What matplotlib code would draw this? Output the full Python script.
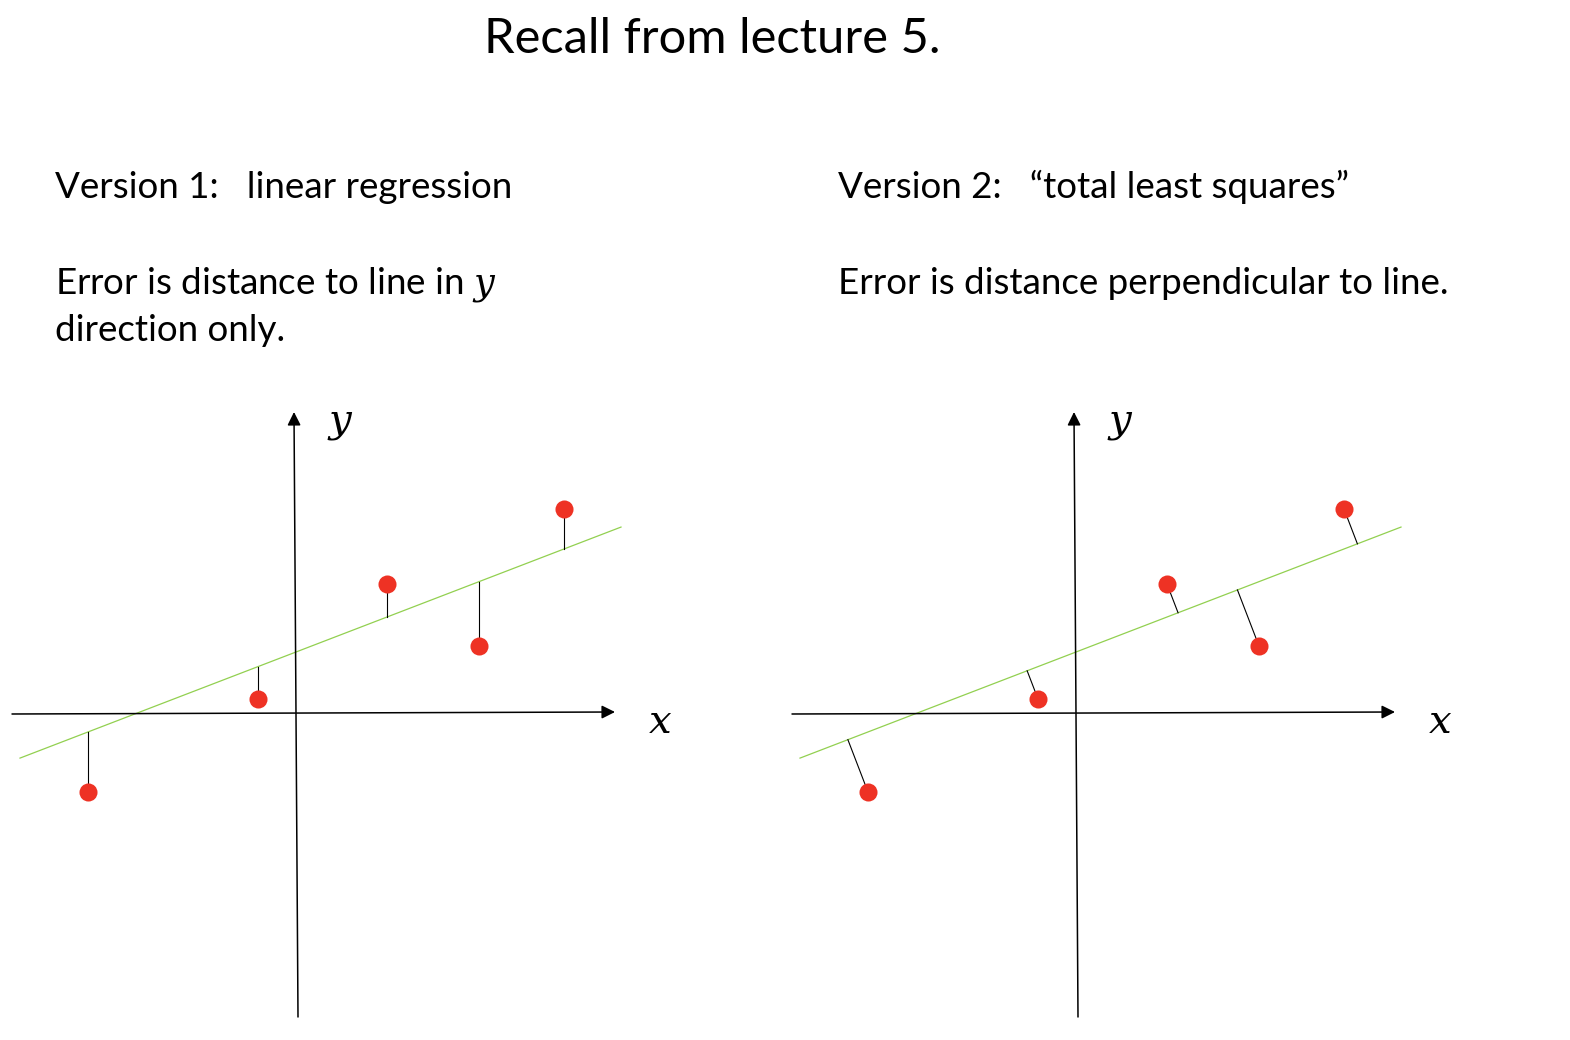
import numpy as np
import matplotlib
matplotlib.use("Agg")
from matplotlib import pyplot as plt

plt.rcParams['font.family'] = ['Lato', 'DejaVu Sans']
plt.rcParams['mathtext.fontset'] = 'dejavuserif'

# data points (units: origin at the axes crossing, y up)
pts_x = [-4.16, -0.76, 1.82, 3.66, 5.36]
pts_y = [-1.58, 0.28, 2.58, 1.34, 4.08]

# fitted line y = slope * x + intercept, drawn between these x values
slope = 0.3844
intercept = 1.22
line_x = [-5.52, 6.5]

# the two coordinate axes (start and end of each arrow)
xaxis_x = [-5.68, 6.38]
xaxis_y = [-0.02, 0.02]
yaxis_x = [0.04, -0.04]
yaxis_y = [-6.08, 6.02]

W, H = 1570, 1040
fig = plt.figure(figsize=(W / 100, H / 100), dpi=100)

# text on the slide
fs = 26.5
fig.text(712 / W, 1 - 53 / H, "Recall from lecture 5.", fontsize=35.2, ha='center', va='baseline')
fig.text(55 / W, 1 - 198 / H, "Version 1:   linear regression", fontsize=fs, va='baseline')
fig.text(55 / W, 1 - 294 / H, "Error is distance to line in $y$", fontsize=fs, va='baseline')
fig.text(55 / W, 1 - 341 / H, "direction only.", fontsize=fs, va='baseline')
fig.text(838 / W, 1 - 198 / H, "Version 2:   \u201ctotal least squares\u201d", fontsize=fs, va='baseline')
fig.text(838 / W, 1 - 294 / H, "Error is distance perpendicular to line.", fontsize=fs, va='baseline')

px = np.array(pts_x)
py = np.array(pts_y)
lx = np.array(line_x)

for k, ox in enumerate([296, 1076]):
    # 1 data unit = 50 px, origin at (ox, 713) px
    left_px, right_px, top_px, bot_px = ox - 296, ox + 464, 380, 1040
    ax = fig.add_axes([left_px / W, 1 - bot_px / H, (right_px - left_px) / W, (bot_px - top_px) / H])
    ax.set_xlim((left_px - ox) / 50, (right_px - ox) / 50)
    ax.set_ylim((713 - bot_px) / 50, (713 - top_px) / 50)
    ax.axis('off')

    arrow = dict(arrowstyle='-|>', color='k', lw=1.1, mutation_scale=20, shrinkA=0, shrinkB=0)
    ax.annotate("", xy=(xaxis_x[1], xaxis_y[1]), xytext=(xaxis_x[0], xaxis_y[0]), arrowprops=arrow)
    ax.annotate("", xy=(yaxis_x[1], yaxis_y[1]), xytext=(yaxis_x[0], yaxis_y[0]), arrowprops=arrow)
    ax.text(7.28, -0.17, "$x$", fontsize=29, ha='center', va='center')
    ax.text(0.88, 5.8, "$y$", fontsize=29, ha='center', va='center')

    ax.plot(lx, slope * lx + intercept, color='#92D050', lw=0.9, zorder=2)

    if k == 0:
        # vertical error
        fx = px
        fy = slope * px + intercept
    else:
        # perpendicular error: project onto the line
        t = (px + slope * (py - intercept)) / (1 + slope ** 2)
        fx = t
        fy = slope * t + intercept
    for i in range(len(px)):
        ax.plot([fx[i], px[i]], [fy[i], py[i]], color='k', lw=0.8, zorder=3)

    ax.plot(px, py, 'o', color='#EE3224', markersize=13, markeredgewidth=0, zorder=4)

plt.savefig("out.png", dpi=100)
